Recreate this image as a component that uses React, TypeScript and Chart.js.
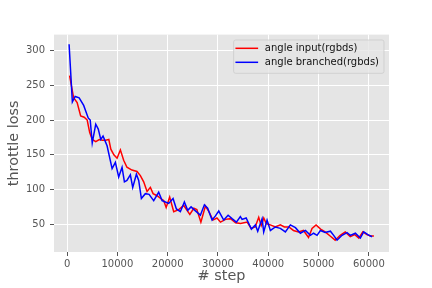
import React, { useEffect, useRef } from "react";
import { Chart, registerables } from "chart.js";

Chart.register(...registerables);

const FONT = "'DejaVu Sans', sans-serif";

const seriesLabels = ["angle input(rgbds)", "angle branched(rgbds)"];
const seriesColors = ["#FF0000", "#0000FF"];

const xTicks = [0, 10000, 20000, 30000, 40000, 50000, 60000];
const yTicks = [50, 100, 150, 200, 250, 300];

const redSteps = [
  500, 1300, 2000, 2700, 3400, 4000, 4500, 5000, 5700, 6400,
  7000, 7700, 8300, 8700, 9300, 9940, 10600, 11250, 11900, 12900,
  13900, 14570, 15230, 15900, 16560, 17100, 17900, 18600, 19200, 19700,
  20400, 21200, 22200, 23200, 24400, 25200, 25800, 26600, 27500, 28200,
  29000, 29800, 30500, 31500, 32500, 33500, 34500, 35800, 36600, 37400,
  38100, 38600, 39100, 39600, 40400, 41400, 42400, 43200, 44100, 45000,
  46000, 47000, 48000, 48700, 49500, 50400, 51300, 52300, 53300, 54300,
  55300, 56300, 57200, 58000, 58800, 59600, 60300, 61000,
];
const redLoss = [
  264, 232, 225, 206, 204, 200, 182, 172, 169, 172,
  171, 171, 172, 158, 150, 145, 157, 142, 132, 128,
  126, 120, 111, 97, 103, 94, 91, 87, 84, 74,
  89, 68, 71, 77, 64, 73, 71, 53, 76, 68,
  56, 59, 53, 57, 58, 52, 51, 53, 44, 46,
  60, 48, 59, 51, 49, 46, 49, 46, 46, 41,
  39, 41, 31, 44, 49, 43, 39, 33, 27, 34,
  39, 32, 35, 30, 39, 35, 33, 33,
];

const blueSteps = [
  400, 1050, 1600, 2400, 3300, 4200, 4600, 5000, 5700, 6200,
  6700, 7150, 7550, 7950, 8950, 9600, 10260, 10930, 11400, 11900,
  12580, 13050, 13780, 14240, 14770, 15560, 16300, 17220, 18210, 18890,
  19540, 20200, 21070, 21730, 22520, 23320, 23980, 24650, 25400, 26500,
  27300, 27950, 28830, 29500, 30150, 31140, 32010, 32800, 33660, 34450,
  34790, 35600, 36640, 37440, 37900, 38770, 39090, 39760, 40420, 41410,
  42400, 43400, 44390, 45400, 46380, 47380, 48370, 49000, 49700, 50360,
  51300, 52350, 53000, 53680, 54660, 55650, 56300, 57310, 58300, 58970,
  59800, 60630,
];
const blueLoss = [
  309, 226, 234, 232, 221, 203, 200, 167, 194, 187,
  172, 177, 170, 163, 130, 139, 118, 132, 111, 113,
  121, 103, 122, 113, 87, 94, 93, 84, 96, 84,
  82, 80, 87, 72, 68, 82, 70, 75, 70, 63,
  78, 73, 56, 62, 69, 56, 63, 58, 53, 61,
  57, 59, 43, 49, 40, 58, 39, 56, 41, 46,
  44, 39, 49, 45, 37, 41, 34, 37, 34, 41,
  38, 40, 34, 27, 34, 38, 34, 37, 30, 39,
  35, 32,
];

const bgPlugin = {
  id: "ggbg",
  beforeDraw(chart: any) {
    const { ctx, chartArea: a } = chart;
    ctx.save();
    ctx.fillStyle = "#FFFFFF";
    ctx.fillRect(0, 0, chart.width, chart.height);
    ctx.fillStyle = "#E5E5E5";
    ctx.fillRect(a.left, a.top, a.right - a.left, a.bottom - a.top);
    ctx.restore();
  },
};

const legendPlugin = {
  id: "mplLegend",
  afterDraw(chart: any) {
    const { ctx, chartArea: a } = chart;
    const ds = chart.data.datasets;
    ctx.save();
    ctx.font = `10px ${FONT}`;
    let maxW = 0;
    ds.forEach((d: any) => {
      maxW = Math.max(maxW, ctx.measureText(d.label).width);
    });
    const right = a.right - 5;
    const top = a.top + 5.4;
    const textX = right - 5 - maxW;
    const left = textX - 31.2;
    const bottom = top + 33.3;
    const r = 2;
    ctx.beginPath();
    ctx.moveTo(left + r, top);
    ctx.lineTo(right - r, top);
    ctx.arcTo(right, top, right, top + r, r);
    ctx.lineTo(right, bottom - r);
    ctx.arcTo(right, bottom, right - r, bottom, r);
    ctx.lineTo(left + r, bottom);
    ctx.arcTo(left, bottom, left, bottom - r, r);
    ctx.lineTo(left, top + r);
    ctx.arcTo(left, top, left + r, top, r);
    ctx.closePath();
    ctx.fillStyle = "rgba(229,229,229,0.8)";
    ctx.fill();
    ctx.strokeStyle = "rgba(204,204,204,0.8)";
    ctx.lineWidth = 1;
    ctx.stroke();
    ds.forEach((d: any, i: number) => {
      const y = top + 8.3 + i * 14;
      ctx.beginPath();
      ctx.strokeStyle = d.borderColor;
      ctx.lineWidth = 1.5;
      ctx.moveTo(textX - 29.4, y);
      ctx.lineTo(textX - 6.7, y);
      ctx.stroke();
      ctx.fillStyle = "#111111";
      ctx.textAlign = "left";
      ctx.textBaseline = "middle";
      ctx.fillText(d.label, textX, y);
    });
    ctx.restore();
  },
};

export default function App() {
  const ref = useRef<HTMLCanvasElement | null>(null);

  useEffect(() => {
    if (!ref.current) return;
    const mk = (steps: number[], loss: number[]) =>
      steps.map((s, i) => ({ x: s, y: loss[i] }));
    const tickFont = { family: FONT, size: 10 };
    const titleFont = { family: FONT, size: 14.4 };
    const chart = new Chart(ref.current, {
      type: "line",
      data: {
        datasets: [
          {
            label: seriesLabels[0],
            data: mk(redSteps, redLoss),
            borderColor: seriesColors[0],
            backgroundColor: seriesColors[0],
            borderWidth: 1.5,
            pointRadius: 0,
            tension: 0,
            fill: false,
            order: 2,
          },
          {
            label: seriesLabels[1],
            data: mk(blueSteps, blueLoss),
            borderColor: seriesColors[1],
            backgroundColor: seriesColors[1],
            borderWidth: 1.5,
            pointRadius: 0,
            tension: 0,
            fill: false,
            order: 1,
          },
        ],
      },
      options: {
        responsive: false,
        animation: false,
        devicePixelRatio: 1,
        layout: { padding: { top: 34.6, right: 43, left: 0, bottom: 0 } },
        plugins: {
          legend: { display: false },
          tooltip: { enabled: false },
        },
        scales: {
          x: {
            type: "linear",
            min: -2600,
            max: 64000,
            afterBuildTicks: (s: any) => {
              s.ticks = xTicks.map((v) => ({ value: v }));
            },
            afterFit: (s: any) => {
              s.height = 36;
            },
            ticks: {
              color: "#555555",
              font: tickFont,
              padding: 2,
              maxRotation: 0,
              autoSkip: false,
              includeBounds: false,
              callback: (v: any) => String(v),
            },
            grid: {
              color: "#FFFFFF",
              lineWidth: 1,
              tickColor: "#555555",
              tickLength: 4,
              tickWidth: 1,
            },
            border: { display: false },
            title: {
              display: true,
              text: "# step",
              color: "#555555",
              font: titleFont,
              padding: { top: 0, bottom: 2.8 },
            },
          },
          y: {
            type: "linear",
            min: 10,
            max: 323,
            afterBuildTicks: (s: any) => {
              s.ticks = yTicks.map((v) => ({ value: v }));
            },
            afterFit: (s: any) => {
              s.width = 54;
            },
            ticks: {
              color: "#555555",
              font: tickFont,
              padding: 5,
              autoSkip: false,
              includeBounds: false,
              callback: (v: any) => String(v),
            },
            grid: {
              color: "#FFFFFF",
              lineWidth: 1,
              tickColor: "#555555",
              tickLength: 4,
              tickWidth: 1,
            },
            border: { display: false },
            title: {
              display: true,
              text: "throttle loss",
              color: "#555555",
              font: titleFont,
              padding: { top: 6, bottom: 0 },
            },
          },
        },
      },
      plugins: [bgPlugin, legendPlugin],
    } as any);
    return () => chart.destroy();
  }, []);

  return (
    <div style={{ position: "fixed", left: 0, top: 0, width: 432, height: 288, background: "#fff" }}>
      <canvas ref={ref} width={432} height={288} style={{ display: "block", width: 432, height: 288 }} />
    </div>
  );
}
